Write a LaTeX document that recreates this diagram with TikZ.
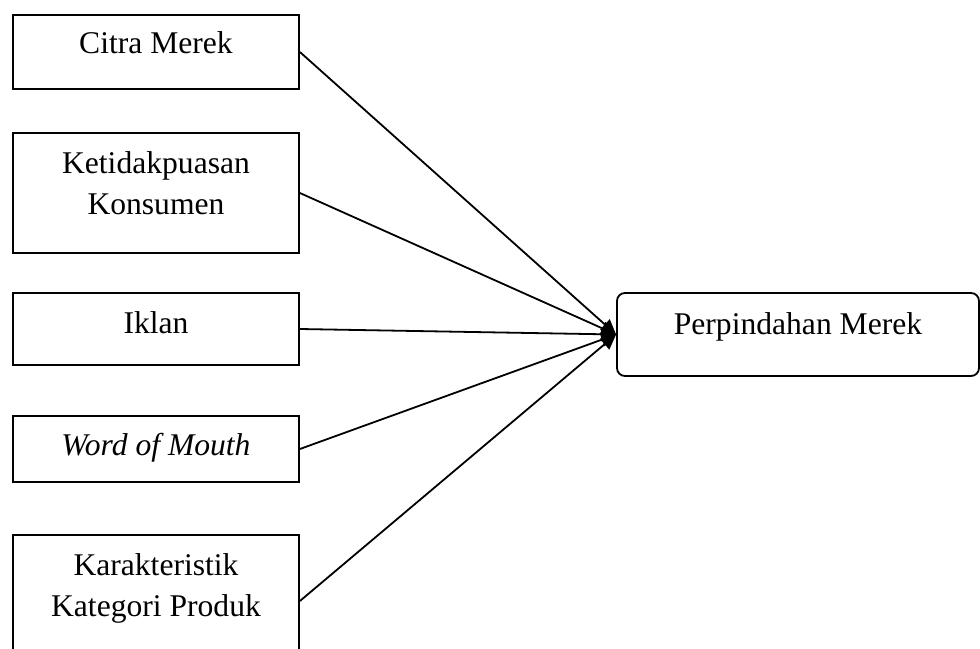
\documentclass[tikz,border=0pt]{standalone}
\usepackage{fontspec}
\setmainfont{Liberation Serif}
\usetikzlibrary{arrows.meta}

\tikzset{
    faktor/.style={rectangle, draw, line width=0.9pt, fill=white, minimum width=143pt, align=center, inner sep=0pt, text height=12pt, font=\fontsize{15.8}{20.5}\selectfont},
    hasil/.style={faktor, rounded corners=4pt, minimum width=181pt},
    panah/.style={line width=0.9pt, -{Triangle[length=7.5pt,width=7pt]}}
}

\begin{document}
\begin{tikzpicture}[x=0.5pt, y=-0.5pt]
    \useasboundingbox (0,0) rectangle (980,648);

    % Draw nodes
    \node[faktor, minimum height=37pt, text depth=10pt] (citra) at (156,52) {Citra Merek};
    \node[faktor, minimum height=60pt, text height=23pt, text depth=2pt] (ketidakpuasan) at (156,193) {Ketidakpuasan\\Konsumen};
    \node[faktor, minimum height=36pt, text depth=8pt] (iklan) at (156,329) {Iklan};
    \node[faktor, minimum height=33pt, text depth=6pt] (wom) at (156,449) {\textit{Word of Mouth}};
    \node[faktor, minimum height=66pt, text height=17pt, text depth=2pt] (kategori) at (156,601) {Karakteristik\\Kategori Produk};
    \node[hasil, minimum height=41.5pt, text depth=12.5pt] (perpindahan) at (798,334.5) {Perpindahan Merek};

    % Draw connections
    \draw[panah] (citra.east) -- (perpindahan.west);
    \draw[panah] (ketidakpuasan.east) -- (perpindahan.west);
    \draw[panah] (iklan.east) -- (perpindahan.west);
    \draw[panah] (wom.east) -- (perpindahan.west);
    \draw[panah] (kategori.east) -- (perpindahan.west);
\end{tikzpicture}
\end{document}
